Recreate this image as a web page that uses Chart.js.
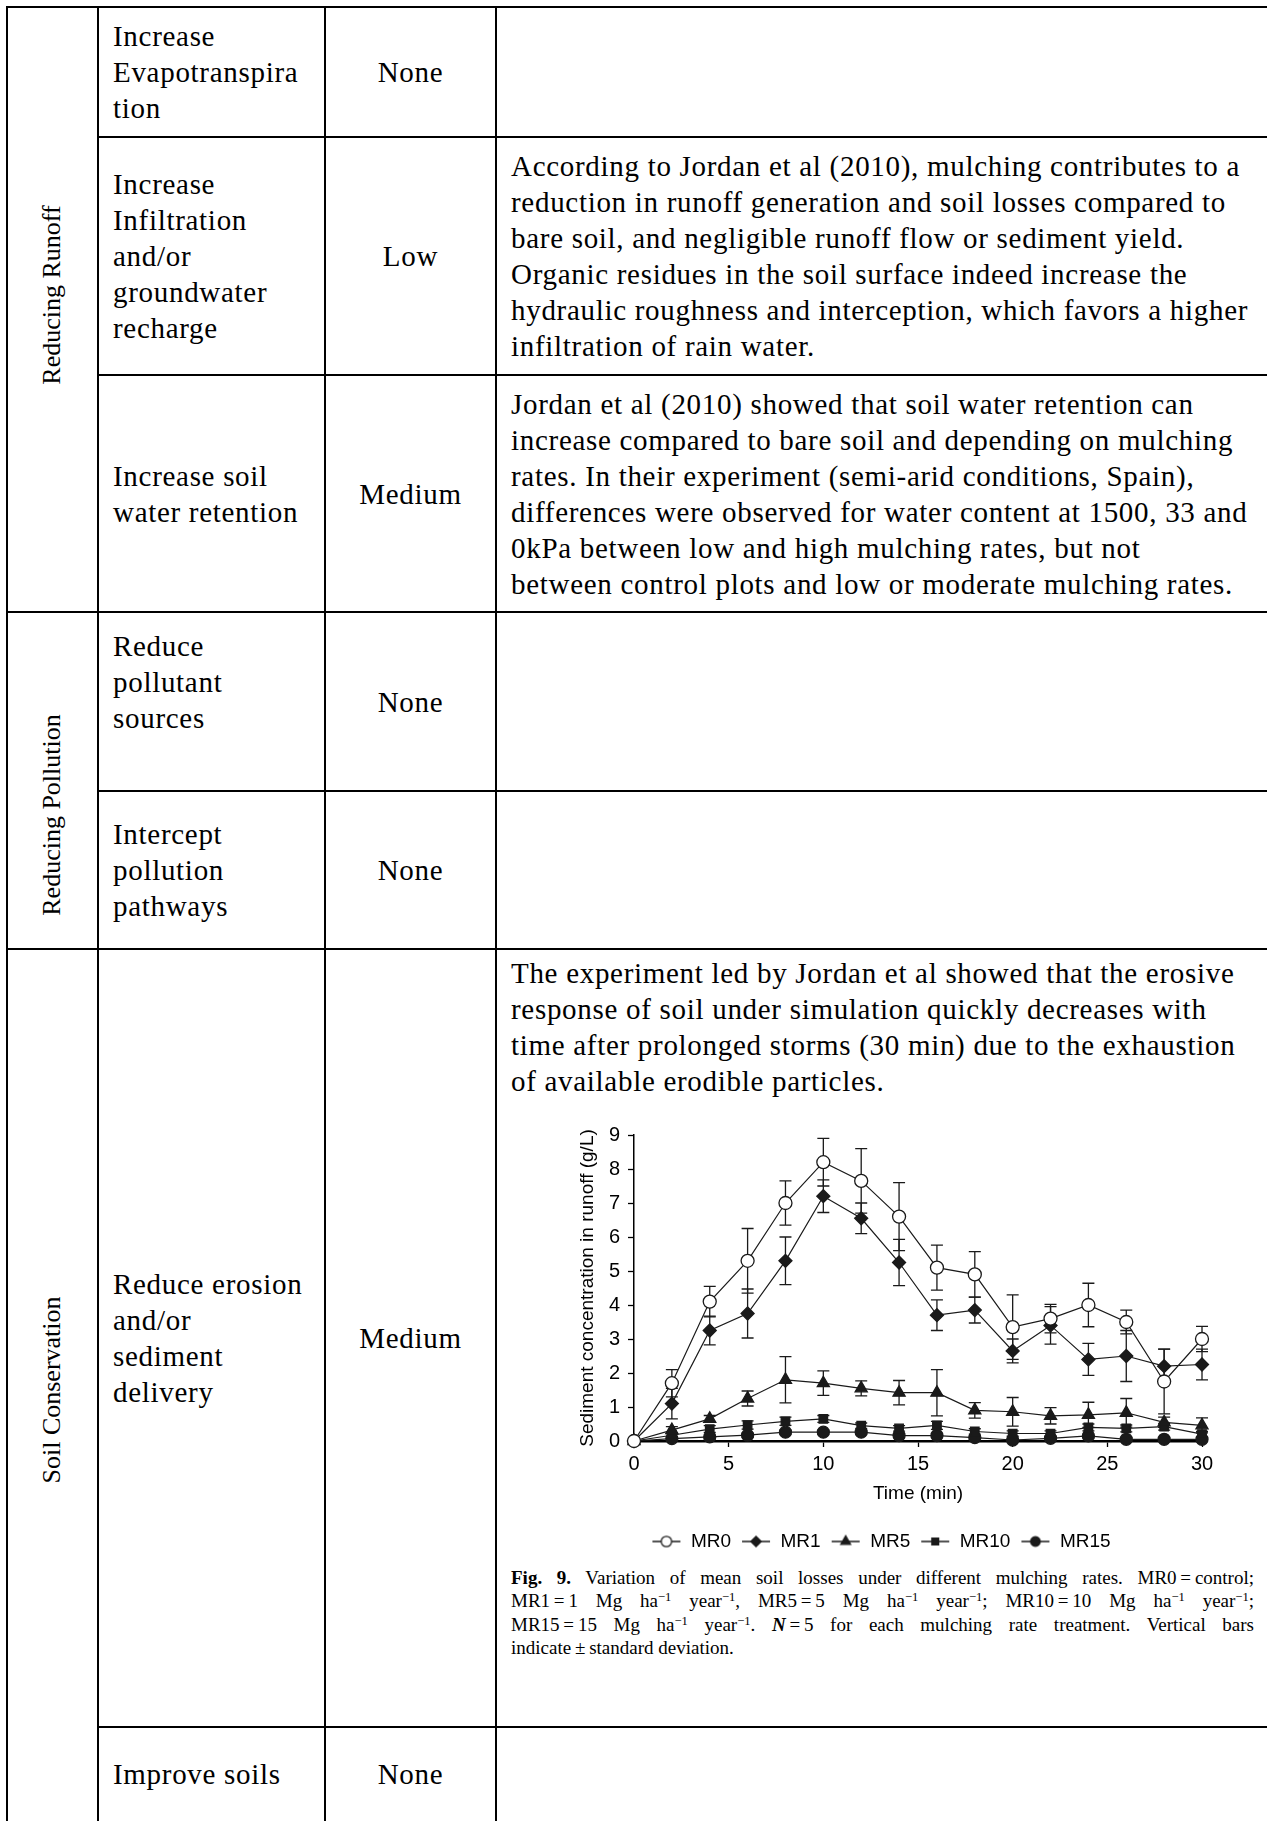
<!DOCTYPE html>
<html>
<head>
<meta charset="utf-8">
<script src="https://cdn.jsdelivr.net/npm/chart.js@4.4.1/dist/chart.umd.min.js"></script>
<style>
body { margin: 0; background: #fff; width: 1267px; height: 1821px; overflow: hidden; position: relative;
       font-family: "Liberation Serif", "DejaVu Serif", serif; color: #000; }
.ln { position: absolute; background: #000; }
.cell { position: absolute; display: flex; align-items: center; font-size: 29px; letter-spacing: 0.7px; line-height: 36px; white-space: nowrap; box-sizing: border-box; }
.c2 { left: 98px; width: 227px; padding-left: 15px; }
.c3 { left: 325px; width: 171px; justify-content: center; }
.c4 { left: 496px; width: 771px; padding-left: 15px; }
.rot { position: absolute; font-size: 26px; white-space: nowrap; transform: translate(-50%, -50%) rotate(-90deg); }
#chartBox { position: absolute; left: 560px; top: 1108px; width: 694px; height: 453px; }
#caption { position: absolute; left: 511px; top: 1566px; width: 743px; font-size: 19px; line-height: 23.3px; }
#caption div { text-align: justify; text-align-last: justify; white-space: nowrap; }
#caption div.last { text-align-last: left; }
sup { font-size: 0.66em; line-height: 0; vertical-align: 0.5em; }
</style>
</head>
<body>

<!-- table grid -->
<div class="ln" style="left:6px;top:6px;width:2px;height:1815px"></div>
<div class="ln" style="left:97px;top:6px;width:2px;height:1815px"></div>
<div class="ln" style="left:324px;top:6px;width:2px;height:1815px"></div>
<div class="ln" style="left:495px;top:6px;width:2px;height:1815px"></div>
<div class="ln" style="left:6px;top:6px;width:1261px;height:2px"></div>
<div class="ln" style="left:97px;top:136px;width:1170px;height:2px"></div>
<div class="ln" style="left:97px;top:374px;width:1170px;height:2px"></div>
<div class="ln" style="left:6px;top:611px;width:1261px;height:2px"></div>
<div class="ln" style="left:97px;top:790px;width:1170px;height:2px"></div>
<div class="ln" style="left:6px;top:948px;width:1261px;height:2px"></div>
<div class="ln" style="left:97px;top:1726px;width:1170px;height:2px"></div>

<!-- group labels -->
<div class="rot" style="left:52px;top:295px">Reducing Runoff</div>
<div class="rot" style="left:52px;top:815px">Reducing Pollution</div>
<div class="rot" style="left:52px;top:1390px">Soil Conservation</div>

<!-- row 1 -->
<div class="cell c2" style="top:7px;height:130px">Increase<br>Evapotranspira<br>tion</div>
<div class="cell c3" style="top:7px;height:130px">None</div>

<!-- row 2 -->
<div class="cell c2" style="top:137px;height:238px">Increase<br>Infiltration<br>and/or<br>groundwater<br>recharge</div>
<div class="cell c3" style="top:137px;height:238px">Low</div>
<div class="cell c4" style="top:137px;height:238px">According to Jordan et al (2010), mulching contributes to a<br>reduction in runoff generation and soil losses compared to<br>bare soil, and negligible runoff flow or sediment yield.<br>Organic residues in the soil surface indeed increase the<br>hydraulic roughness and interception, which favors a higher<br>infiltration of rain water.</div>

<!-- row 3 -->
<div class="cell c2" style="top:375px;height:237px">Increase soil<br>water retention</div>
<div class="cell c3" style="top:375px;height:237px">Medium</div>
<div class="cell c4" style="top:375px;height:237px">Jordan et al (2010) showed that soil water retention can<br>increase compared to bare soil and depending on mulching<br>rates. In their experiment (semi-arid conditions, Spain),<br>differences were observed for water content at 1500, 33 and<br>0kPa between low and high mulching rates, but not<br>between control plots and low or moderate mulching rates.</div>

<!-- row 4 -->
<div class="cell c2" style="top:592px;height:179px">Reduce<br>pollutant<br>sources</div>
<div class="cell c3" style="top:612px;height:179px">None</div>

<!-- row 5 -->
<div class="cell c2" style="top:791px;height:158px">Intercept<br>pollution<br>pathways</div>
<div class="cell c3" style="top:791px;height:158px">None</div>

<!-- row 6 -->
<div class="cell c2" style="top:949px;height:778px">Reduce erosion<br>and/or<br>sediment<br>delivery</div>
<div class="cell c3" style="top:949px;height:778px">Medium</div>
<div class="cell c4" style="top:955px;height:144px;align-items:flex-start">The experiment led by Jordan et al showed that the erosive<br>response of soil under simulation quickly decreases with<br>time after prolonged storms (30 min) due to the exhaustion<br>of available erodible particles.</div>

<div id="chartBox"><canvas id="sedChart"></canvas></div>

<div id="caption">
  <div><b>Fig. 9.</b> Variation of mean soil losses under different mulching rates. MR0&thinsp;=&thinsp;control;</div>
  <div>MR1&thinsp;=&thinsp;1 Mg ha<sup>&minus;1</sup> year<sup>&minus;1</sup>, MR5&thinsp;=&thinsp;5 Mg ha<sup>&minus;1</sup> year<sup>&minus;1</sup>; MR10&thinsp;=&thinsp;10 Mg ha<sup>&minus;1</sup> year<sup>&minus;1</sup>;</div>
  <div>MR15&thinsp;=&thinsp;15 Mg ha<sup>&minus;1</sup> year<sup>&minus;1</sup>. <b><i>N</i></b>&thinsp;=&thinsp;5 for each mulching rate treatment. Vertical bars</div>
  <div class="last">indicate&thinsp;&plusmn;&thinsp;standard deviation.</div>
</div>

<!-- row 7 -->
<div class="cell c2" style="top:1727px;height:94px">Improve soils</div>
<div class="cell c3" style="top:1727px;height:94px">None</div>

<script>
// sediment concentration in runoff (g/L) vs time (min)
const times = [0, 2, 4, 6, 8, 10, 12, 14, 16, 18, 20, 22, 24, 26, 28, 30];
const seriesNames = ['MR0', 'MR1', 'MR5', 'MR10', 'MR15'];

const mr0 = [0, 1.7, 4.1, 5.3, 7.0, 8.2, 7.65, 6.6, 5.1, 4.9, 3.35, 3.6, 4.0, 3.5, 1.75, 3.0];
const mr0Sd = [0, 0.4, 0.45, 0.95, 0.65, 0.7, 0.95, 1.0, 0.66, 0.67, 0.95, 0.42, 0.64, 0.35, 0.95, 0.37];
const mr1 = [0, 1.1, 3.25, 3.75, 5.3, 7.2, 6.55, 5.25, 3.7, 3.85, 2.65, 3.4, 2.4, 2.5, 2.2, 2.25];
const mr1Sd = [0, 0.45, 0.42, 0.72, 0.7, 0.48, 0.45, 0.68, 0.45, 0.38, 0.35, 0.55, 0.47, 0.75, 0.5, 0.45];
const mr5 = [0, 0.32, 0.65, 1.25, 1.8, 1.7, 1.55, 1.42, 1.42, 0.9, 0.86, 0.74, 0.77, 0.83, 0.55, 0.46];
const mr5Sd = [0, 0.1, 0.1, 0.22, 0.68, 0.36, 0.22, 0.36, 0.68, 0.23, 0.42, 0.24, 0.37, 0.42, 0.15, 0.22];
const mr10 = [0, 0.17, 0.35, 0.47, 0.58, 0.65, 0.45, 0.37, 0.46, 0.28, 0.22, 0.22, 0.4, 0.37, 0.42, 0.2];
const mr10Sd = [0, 0.05, 0.1, 0.12, 0.12, 0.1, 0.08, 0.08, 0.12, 0.08, 0.08, 0.08, 0.1, 0.1, 0.1, 0.08];
const mr15 = [0, 0.07, 0.12, 0.17, 0.26, 0.26, 0.26, 0.16, 0.16, 0.1, 0.03, 0.08, 0.15, 0.05, 0.05, 0.05];
const mr15Sd = [0, 0.05, 0.05, 0.06, 0.06, 0.06, 0.06, 0.06, 0.06, 0.05, 0.05, 0.05, 0.05, 0.05, 0.05, 0.05];

const yTicks = [0, 1, 2, 3, 4, 5, 6, 7, 8, 9];
const xTicks = [0, 5, 10, 15, 20, 25, 30];

const ink = '#1a1a1a';
const markers = [
    { style: 'circle', radius: 6.5, fill: '#fff' },
    { style: 'rectRot', radius: 6.5, fill: ink },
    { style: 'triangle', radius: 7, fill: ink },
    { style: 'rect', radius: 6, fill: ink },
    { style: 'circle', radius: 6, fill: ink }
];
const values = [mr0, mr1, mr5, mr10, mr15];
const sds = [mr0Sd, mr1Sd, mr5Sd, mr10Sd, mr15Sd];

Chart.defaults.font.family = '"Liberation Sans", Arial, sans-serif';
Chart.defaults.color = '#000';

// little "-o-" pictures for the legend
function legendIcon(m) {
    const c = document.createElement('canvas');
    c.width = 30; c.height = 16;
    const g = c.getContext('2d');
    g.strokeStyle = ink; g.lineWidth = 1.5;
    g.beginPath(); g.moveTo(1, 8); g.lineTo(29, 8); g.stroke();
    g.fillStyle = m.fill; g.strokeStyle = ink; g.lineWidth = 1.3;
    Chart.helpers.drawPoint(g, { pointStyle: m.style, radius: m.radius * 0.8, borderWidth: 1.3 }, 15, 8);
    return c;
}
const icons = markers.map(legendIcon);

const datasets = seriesNames.map((name, i) => ({
    label: name,
    data: times.map((t, j) => ({ x: t, y: values[i][j] })),
    sd: sds[i],
    borderColor: ink,
    borderWidth: 1.2,
    backgroundColor: markers[i].fill,
    pointStyle: markers[i].style,
    pointRadius: markers[i].radius,
    pointBorderColor: ink,
    pointBackgroundColor: markers[i].fill,
    pointBorderWidth: 1.3,
    tension: 0,
    clip: false
}));

// vertical +/- sd bars with caps
const errorBars = {
    id: 'errorBars',
    beforeDatasetsDraw(chart) {
        const { ctx, scales: { x, y } } = chart;
        ctx.save();
        ctx.strokeStyle = ink;
        ctx.lineWidth = 1.3;
        chart.data.datasets.forEach(ds => {
            ds.data.forEach((p, j) => {
                const s = ds.sd[j];
                if (!s) return;
                const px = x.getPixelForValue(p.x);
                const top = y.getPixelForValue(p.y + s);
                const bot = y.getPixelForValue(Math.max(0, p.y - s));
                ctx.beginPath();
                ctx.moveTo(px, top); ctx.lineTo(px, bot);
                ctx.moveTo(px - 6, top); ctx.lineTo(px + 6, top);
                ctx.moveTo(px - 6, bot); ctx.lineTo(px + 6, bot);
                ctx.stroke();
            });
        });
        ctx.restore();
    }
};

const ctx = document.getElementById('sedChart').getContext('2d');
const sedChart = new Chart(ctx, {
    type: 'line',
    data: { datasets: datasets },
    options: {
        responsive: true,
        maintainAspectRatio: false,
        animation: false,
        layout: { padding: { left: 0, right: 52, top: 27, bottom: 0 } },
        plugins: {
            tooltip: { enabled: false },
            legend: {
                position: 'bottom',
                labels: {
                    usePointStyle: true,
                    pointStyleWidth: 30,
                    padding: 10,
                    font: { size: 19 },
                    color: '#000',
                    generateLabels: chart => chart.data.datasets.map((ds, i) => ({
                        text: ds.label,
                        pointStyle: icons[i],
                        fillStyle: markers[i].fill,
                        strokeStyle: ink,
                        lineWidth: 0,
                        hidden: false,
                        datasetIndex: i,
                        fontColor: '#000'
                    }))
                }
            }
        },
        scales: {
            x: {
                type: 'linear',
                min: 0,
                max: 30,
                afterBuildTicks: scale => { scale.ticks = xTicks.map(v => ({ value: v })); },
                afterFit: scale => { scale.height = 81; },
                grid: { drawOnChartArea: false, drawTicks: true, tickLength: 6, tickColor: '#000', tickWidth: 1.3 },
                border: { color: '#000', width: 2.5 },
                ticks: { font: { size: 20 }, color: '#000', padding: 5, maxRotation: 0 },
                title: { display: true, text: 'Time (min)', font: { size: 19 }, color: '#000', padding: { top: 0, bottom: 17 } }
            },
            y: {
                min: 0,
                max: 9,
                afterBuildTicks: scale => { scale.ticks = yTicks.map(v => ({ value: v })); },
                afterFit: scale => { scale.width = 74; },
                grid: { drawOnChartArea: false, drawTicks: true, tickLength: 6, tickColor: '#000', tickWidth: 1.3 },
                border: { color: '#000', width: 1.5 },
                ticks: { font: { size: 20 }, color: '#000', padding: 8, minRotation: 0, maxRotation: 0 },
                title: { display: true, text: 'Sediment concentration in runoff (g/L)', font: { size: 19 }, color: '#000', padding: { top: 16, bottom: 0 } }
            }
        }
    },
    plugins: [errorBars]
});
</script>
</body>
</html>
